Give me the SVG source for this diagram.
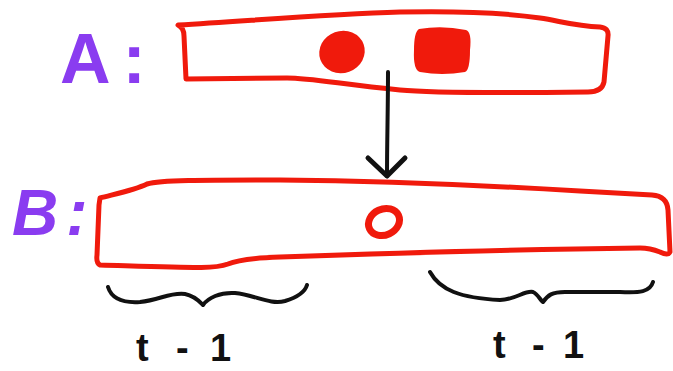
<svg xmlns="http://www.w3.org/2000/svg" width="673" height="371" viewBox="0 0 673 371">
<style>
.box{fill:none;stroke:#f01a0c;stroke-width:5;stroke-linejoin:round;stroke-linecap:round}
.fillred{fill:#f01a0c}
.lbl{font-family:"Liberation Sans",Arial,sans-serif;font-weight:bold;fill:#8a3cf0}
.brace{fill:none;stroke:#111;stroke-width:4;stroke-linecap:round;stroke-linejoin:round}
.tl{font-family:"Liberation Sans",Arial,sans-serif;font-weight:bold;font-size:38px;fill:#111}
.conn{fill:none;stroke:#111;stroke-width:4;stroke-linecap:round}
</style>
<defs>
<marker id="ah" markerUnits="userSpaceOnUse" markerWidth="50" markerHeight="50" refX="25" refY="25" orient="auto" viewBox="0 0 50 50">
<path d="M7,7 L25,25 L7,44" fill="none" stroke="#111" stroke-width="5" stroke-linejoin="round" stroke-linecap="round"/>
</marker>
</defs>
<rect width="673" height="371" fill="#ffffff"/>
<g id="labelA"><text class="lbl" x="60" y="83" font-size="70" letter-spacing="12">A:</text></g>
<g id="nodeA">
<path class="box" d="M178,25 C260,20 330,14 400,12 C450,11 500,12 540,18 C560,21 575,26 600,27 Q609,28 608,36 L604,82 Q602,92 588,92 C500,93 430,93 400,90 C340,84 310,78 287,78 L186,79 L184,36 Q184,28 178,25 Z"/>
<ellipse class="fillred" cx="342" cy="52" rx="23" ry="21" transform="rotate(-20 342 52)"/>
<path class="fillred" d="M419,29 Q442,25 466,30 Q472,32 470,50 Q470,70 465,72 Q442,76 420,72 Q413,70 414,50 Q414,32 419,29 Z"/>
</g>
<g id="labelB"><text class="lbl" x="12" y="235" font-size="64" font-style="italic" letter-spacing="8" fill="#7b3cf5">B:</text></g>
<g id="nodeB">
<path class="box" d="M100,198 C115,194 135,190 147,184 C160,180 200,180 280,180 C380,181 480,185 580,191 L652,195 Q667,196 668,210 L670,252 Q668,256 660,252 Q650,248 640,248 C560,249 480,250 280,257 C250,258 235,261 228,264 C215,269 200,268 100,265 Q96,263 97,255 L99,205 Z"/>
<ellipse cx="384" cy="222" rx="16" ry="13" fill="none" stroke="#f01a0c" stroke-width="7" transform="rotate(-25 384 222)"/>
</g>
<g id="braceLeft">
<path class="brace" d="M108,287 C112,300 125,303 140,302 C160,300 170,292 185,294 C195,296 200,302 203,305 C208,298 220,292 235,293 C255,295 270,305 285,301 C298,297 305,292 307,285"/>
<text class="tl" y="361"><tspan x="136">t</tspan><tspan x="176">-</tspan><tspan x="210">1</tspan></text>
</g>
<g id="braceRight">
<path class="brace" d="M430,272 C440,290 460,298 500,300 C515,300 525,290 533,292 C538,294 540,300 543,302 C548,295 552,292 565,292 L620,292 C640,293 650,292 653,282"/>
<text class="tl" y="358"><tspan x="493">t</tspan><tspan x="532">-</tspan><tspan x="563">1</tspan></text>
</g>
<g id="connectors">
<path class="conn" d="M388,72 C388,110 387,140 387,176" marker-end="url(#ah)"/>
</g>
</svg>
